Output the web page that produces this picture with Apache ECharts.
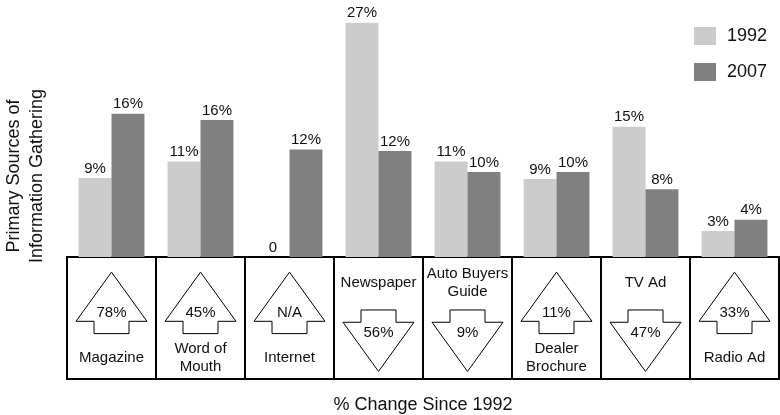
<!DOCTYPE html>
<html>
<head>
<meta charset="utf-8">
<script src="https://cdn.jsdelivr.net/npm/echarts@6/dist/echarts.min.js"></script>
<style>
  html, body { margin: 0; padding: 0; background: #fff; }
  #chart { width: 780px; height: 415px; }
</style>
</head>
<body>
<div id="chart"></div>
<script>
// categories and values
const categories = ['Magazine', 'Word of\nMouth', 'Internet', 'Newspaper', 'Auto Buyers\nGuide', 'Dealer\nBrochure', 'TV Ad', 'Radio Ad']
const values1992 = [9.1, 11, 0, 27, 11, 9, 15, 3]
const values2007 = [16.5, 15.8, 12.4, 12.2, 9.8, 9.8, 7.8, 4.3]
const labels1992 = ['9%', '11%', '0', '27%', '11%', '9%', '15%', '3%']
const labels2007 = ['16%', '16%', '12%', '12%', '10%', '10%', '8%', '4%']
// % change since 1992, null = N/A (drawn as up arrow)
const changes = [78, 45, null, -56, -9, 11, -47, 33]

const FONT = '"Liberation Sans", Arial, Helvetica, sans-serif'

const chart = echarts.init(document.getElementById('chart'))

function labelFor(list) {
  return {
    show: true,
    position: 'top',
    distance: 2,
    fontFamily: FONT,
    fontSize: 15,
    color: '#111',
    formatter: p => list[p.dataIndex]
  }
}

// box with arrow under each category
function renderBox(params, api) {
  const i = params.dataIndex
  const top = api.coord([i, 1])
  const bottom = api.coord([i, 0])
  const w = api.size([1, 0])[0]
  const cx = top[0]
  const y0 = top[1]
  const h = bottom[1] - y0
  const k = h / 129
  const v = changes[i]
  const up = v == null || v >= 0
  const txt = v == null ? 'N/A' : Math.abs(v) + '%'
  const hw = 35.5
  const sw = 17.5
  let pts, pctY, nameY
  if (up) {
    pts = [
      [cx, y0 + 16 * k],
      [cx + hw, y0 + 68 * k],
      [cx + sw, y0 + 68 * k],
      [cx + sw, y0 + 81 * k],
      [cx - sw, y0 + 81 * k],
      [cx - sw, y0 + 68 * k],
      [cx - hw, y0 + 68 * k]
    ]
    pctY = y0 + 59 * k
    nameY = y0 + 107 * k
  } else {
    pts = [
      [cx - sw, y0 + 56 * k],
      [cx + sw, y0 + 56 * k],
      [cx + sw, y0 + 69 * k],
      [cx + hw, y0 + 69 * k],
      [cx, y0 + 121 * k],
      [cx - hw, y0 + 69 * k],
      [cx - sw, y0 + 69 * k]
    ]
    pctY = y0 + 80 * k
    nameY = y0 + 27 * k
  }
  return {
    type: 'group',
    children: [
      {
        type: 'rect',
        shape: { x: cx - w / 2, y: y0, width: w, height: h },
        style: { fill: '#fff', stroke: '#000', lineWidth: 2 }
      },
      {
        type: 'polygon',
        shape: { points: pts },
        style: { fill: '#fff', stroke: '#000', lineWidth: 1 }
      },
      {
        type: 'text',
        style: {
          x: cx, y: pctY, text: txt, align: 'center', verticalAlign: 'middle',
          fontFamily: FONT, fontSize: 15, fill: '#111'
        }
      },
      {
        type: 'text',
        style: {
          x: cx, y: nameY, text: categories[i], align: 'center', verticalAlign: 'middle',
          fontFamily: FONT, fontSize: 15, lineHeight: 18, fill: '#111'
        }
      }
    ]
  }
}

chart.setOption({
  animation: false,
  backgroundColor: '#fff',
  legend: {
    orient: 'vertical',
    left: 689,
    top: 22,
    icon: 'rect',
    itemWidth: 22,
    itemHeight: 18,
    itemGap: 18,
    textStyle: { fontFamily: FONT, fontSize: 18, color: '#111', padding: [0, 0, 0, 6] },
    data: ['1992', '2007']
  },
  grid: [
    { left: 67, right: 1, top: 14, height: 243 },
    { left: 67, right: 1, top: 257, height: 129 }
  ],
  xAxis: [
    {
      type: 'category',
      gridIndex: 0,
      data: categories,
      axisLine: { show: false },
      axisTick: { show: false },
      axisLabel: { show: false }
    },
    {
      type: 'category',
      gridIndex: 1,
      data: categories,
      axisLine: { show: false },
      axisTick: { show: false },
      axisLabel: { show: false },
      name: '% Change Since 1992',
      nameLocation: 'middle',
      nameGap: 17,
      nameTextStyle: { fontFamily: FONT, fontSize: 18, color: '#111' }
    }
  ],
  yAxis: [
    { type: 'value', gridIndex: 0, min: 0, max: 28, show: false },
    { type: 'value', gridIndex: 1, min: 0, max: 1, show: false }
  ],
  graphic: [
    {
      type: 'text',
      x: 26,
      y: 176,
      rotation: Math.PI / 2,
      style: {
        text: 'Primary Sources of\nInformation Gathering',
        align: 'center',
        verticalAlign: 'middle',
        fontFamily: FONT,
        fontSize: 18,
        lineHeight: 23,
        fill: '#111'
      }
    }
  ],
  series: [
    {
      name: '1992',
      type: 'bar',
      xAxisIndex: 0,
      yAxisIndex: 0,
      data: values1992,
      barGap: '0%',
      barCategoryGap: '26%',
      itemStyle: { color: '#cccccc' },
      label: labelFor(labels1992)
    },
    {
      name: '2007',
      type: 'bar',
      xAxisIndex: 0,
      yAxisIndex: 0,
      data: values2007,
      barGap: '0%',
      barCategoryGap: '26%',
      itemStyle: { color: '#808080' },
      label: labelFor(labels2007)
    },
    {
      type: 'custom',
      xAxisIndex: 1,
      yAxisIndex: 1,
      clip: false,
      silent: true,
      renderItem: renderBox,
      data: categories.map((c, i) => [i, 1])
    }
  ]
})
</script>
</body>
</html>
